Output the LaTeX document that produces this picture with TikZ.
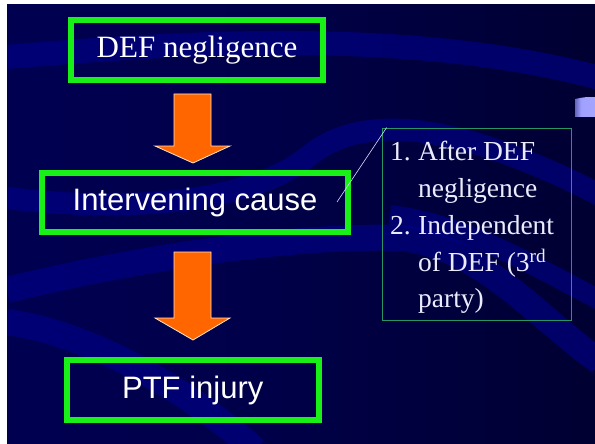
\documentclass[tikz,border=0pt]{standalone}
\usepackage{fontspec}
\setmainfont{Liberation Serif}
\setsansfont{Liberation Sans}
\usetikzlibrary{calc}
\definecolor{navyA}{RGB}{0,0,88}
\definecolor{navyB}{RGB}{0,0,74}
\definecolor{navyC}{RGB}{0,0,30}
\definecolor{bandblue}{RGB}{0,0,140}
\definecolor{boxgreen}{RGB}{24,240,24}
\definecolor{thingreen}{RGB}{40,150,100}
\definecolor{arroworange}{RGB}{255,102,0}
\definecolor{lav}{RGB}{160,160,255}
\pgfdeclarehorizontalshading{bgshade}{100bp}{color(0bp)=(black); color(6bp)=(navyA); color(45bp)=(navyB); color(100bp)=(navyC)}
\pgfdeclarehorizontalshading{lavshade}{100bp}{color(0bp)=(navyB); color(40bp)=(lav); color(100bp)=(lav!90!white)}
\tikzset{
  mainbox/.style={draw=boxgreen, line width=6pt, inner sep=0pt, text=white},
  serifbig/.style={font=\fontsize{31}{36}\selectfont},
  sansbig/.style={font=\sffamily\fontsize{31}{36}\selectfont},
  listtxt/.style={anchor=base west, inner sep=0pt, text=white!92!blue, font=\fontsize{27.5}{33}\selectfont},
  blockarrow/.style={fill=arroworange, draw=white!80!orange, line width=0.8pt, line join=miter},
  band/.style={draw=bandblue, opacity=0.6, line cap=butt}
}
\begin{document}
\begin{tikzpicture}[x=1pt,y=-1pt]
\useasboundingbox (0,0) rectangle (595,444);
\fill[white] (0,0) rectangle (595,444);
\shade[shading=bgshade] (7,5) rectangle (595,444);
\begin{scope}
\clip (7,5) rectangle (595,444);
\draw[band, line width=24pt] (7,57) .. controls (200,40) and (420,30) .. (600,78);
\draw[band, line width=22pt] (7,198) .. controls (120,212) and (250,205) .. (310,155) .. controls (360,115) and (450,118) .. (600,195);
\draw[band, line width=26pt] (7,290) .. controls (150,255) and (300,235) .. (400,238) .. controls (480,245) and (540,320) .. (600,362);
\draw[band, line width=26pt] (7,322) .. controls (100,335) and (200,400) .. (255,450);
\draw[band, line width=20pt] (390,215) .. controls (470,225) and (540,270) .. (600,300);
\end{scope}
\shade[shading=lavshade] (575,99) .. controls (585,97) .. (595,97) -- (595,117) -- (575,117) -- cycle;

\node[mainbox, serifbig, minimum width=251.5pt, minimum height=59.5pt] (def) at (197,50) {DEF negligence};
\node[mainbox, sansbig, minimum width=306pt, minimum height=59pt] (int) at (195,202.5) {Intervening cause};
\node[mainbox, sansbig, minimum width=251.5pt, minimum height=60pt] (ptf) at (192.75,390) {PTF injury};

\draw[blockarrow] (174,94) -- (211,94) -- (211,146) -- (230,146) -- (193,163) -- (155,146) -- (174,146) -- cycle;
\draw[blockarrow] (174,252) -- (211,252) -- (211,318) -- (230,318) -- (193,340) -- (155,318) -- (174,318) -- cycle;

\node[draw=thingreen, line width=0.8pt, minimum width=189pt, minimum height=192pt, inner sep=0pt] (lst) at (476.5,224) {};
\node[listtxt] (n1) at (390,160.7) {1.};
\node[listtxt] (l1) at (418,160.7) {After DEF};
\node[listtxt] (l2) at (418,197) {negligence};
\node[listtxt] (n2) at (390,234) {2.};
\node[listtxt] (l3) at (418,234) {Independent};
\node[listtxt] (l4) at (418,271.3) {of DEF (3\textsuperscript{rd}};
\node[listtxt] (l5) at (418,307.5) {party)};

\coordinate (cstart) at (337,202);
\coordinate (cend) at ($(lst.north west)+(5,0)$);
\draw[white!85!blue, line width=0.6pt] (cstart) -- (cend);
\end{tikzpicture}
\end{document}
